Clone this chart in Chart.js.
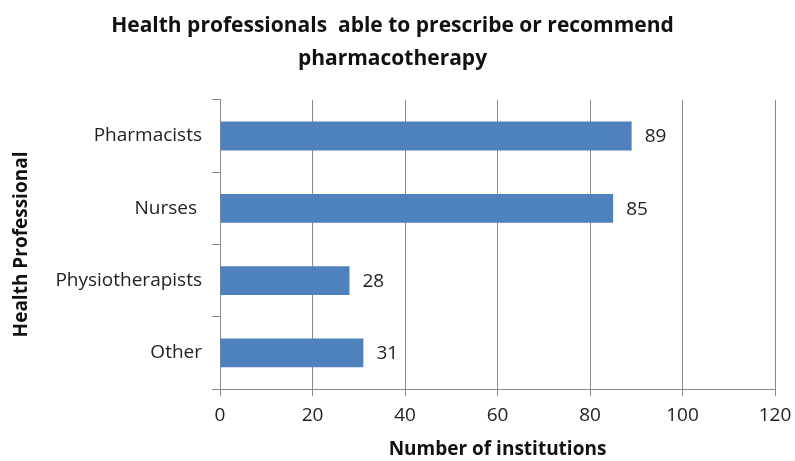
<!DOCTYPE html>
<html>
<head>
<meta charset="utf-8">
<script src="https://cdn.jsdelivr.net/npm/chart.js@4/dist/chart.umd.min.js"></script>
<style>
  html, body { margin: 0; padding: 0; background: #fff; }
  #wrap { width: 795px; height: 461px; }
</style>
</head>
<body>
<div id="wrap"><canvas id="chart"></canvas></div>
<script>
// chart data
const professions = ['Pharmacists', 'Nurses ', 'Physiotherapists', 'Other'];
const institutions = [89, 85, 28, 31];
const xTicks = [0, 20, 40, 60, 80, 100, 120];

const FONT = "'Open Sans', 'Noto Sans', sans-serif";
const TEXT = '#222222';
const GRID = '#8a8a8a';

// value labels to the right of each bar
const barValueLabels = {
    id: 'barValueLabels',
    afterDatasetsDraw(chart) {
        const ctx = chart.ctx;
        const meta = chart.getDatasetMeta(0);
        ctx.save();
        ctx.font = '19px ' + FONT;
        ctx.fillStyle = TEXT;
        ctx.textAlign = 'left';
        ctx.textBaseline = 'middle';
        meta.data.forEach((bar, i) => {
            ctx.fillText(String(institutions[i]), bar.x + 13, bar.y + 1);
        });
        ctx.restore();
    }
};

new Chart(document.getElementById('chart'), {
    type: 'bar',
    data: {
        labels: professions,
        datasets: [{
            label: 'Number of institutions',
            data: institutions,
            backgroundColor: '#4f81bd',
            borderWidth: 0,
            barPercentage: 0.4,
            categoryPercentage: 1.0
        }]
    },
    options: {
        indexAxis: 'y',
        responsive: true,
        maintainAspectRatio: false,
        animation: false,
        layout: { padding: { left: 10, right: 20, top: 8, bottom: 0 } },
        plugins: {
            legend: { display: false },
            tooltip: { enabled: false },
            title: {
                display: true,
                text: ['Health professionals  able to prescribe or recommend', 'pharmacotherapy'],
                color: '#111',
                font: { family: FONT, size: 21, weight: 'bold', lineHeight: 1.57 },
                padding: { top: 2, bottom: 24 }
            }
        },
        scales: {
            x: {
                min: 0,
                max: 120,
                afterBuildTicks(scale) {
                    scale.ticks = xTicks.map(v => ({ value: v }));
                },
                afterFit(scale) {
                    scale.height = 72;
                    scale.paddingLeft = 0;
                    scale.paddingRight = 0;
                },
                grid: {
                    color: GRID,
                    lineWidth: 1,
                    drawTicks: true,
                    tickLength: 7,
                    tickColor: GRID
                },
                border: { display: true, color: GRID },
                ticks: {
                    color: TEXT,
                    font: { family: FONT, size: 19 },
                    padding: 8
                },
                title: {
                    display: true,
                    text: 'Number of institutions',
                    color: '#111',
                    font: { family: FONT, size: 19, weight: 'bold' },
                    padding: { top: 8, bottom: 0 }
                }
            },
            y: {
                afterFit(scale) { scale.width = 210; },
                grid: {
                    offset: true,
                    drawOnChartArea: false,
                    drawTicks: true,
                    tickLength: 8,
                    tickColor: GRID
                },
                border: { display: true, color: GRID },
                ticks: {
                    color: TEXT,
                    font: { family: FONT, size: 19 },
                    padding: 10
                },
                title: {
                    display: true,
                    text: 'Health Professional',
                    color: '#111',
                    font: { family: FONT, size: 19, weight: 'bold' },
                    padding: { top: 0, bottom: 0 }
                }
            }
        }
    },
    plugins: [barValueLabels]
});
</script>
</body>
</html>
